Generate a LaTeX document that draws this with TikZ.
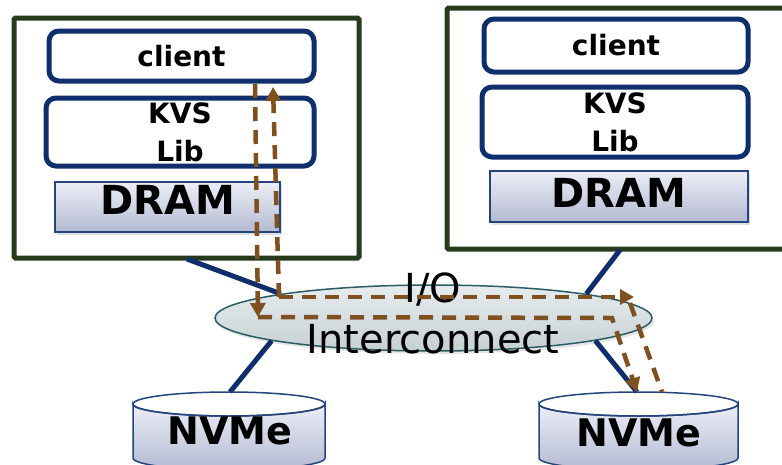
\documentclass[tikz,border=0pt]{standalone}
\usepackage{fontspec}
\setmainfont{DejaVu Sans}
\usetikzlibrary{arrows.meta,shapes.geometric,shadows,calc}
\definecolor{hostc}{HTML}{263A1C}
\definecolor{navy}{HTML}{0E2F6B}
\definecolor{flowc}{HTML}{7F5020}
\definecolor{dramline}{HTML}{24447C}
\definecolor{dramtop}{HTML}{ECEEF6}
\definecolor{drambot}{HTML}{B4BAD2}
\definecolor{ictop}{HTML}{E6ECEE}
\definecolor{icbot}{HTML}{C6D1D4}
\definecolor{icline}{HTML}{2B5C64}
\begin{document}
\begin{tikzpicture}[x=1pt,y=-1pt,
  hostbox/.style={draw=hostc, line width=5pt, fill=white, rounded corners=1.5pt, inner sep=0pt},
  swbox/.style={draw=navy, line width=5pt, rounded corners=10pt, fill=white, align=center, inner sep=0pt,
    font=\bfseries\fontsize{28}{38}\selectfont},
  drambox/.style={draw=dramline, line width=1.5pt, top color=dramtop, bottom color=drambot, inner sep=0pt,
    drop shadow={shadow xshift=2pt, shadow yshift=-3pt, opacity=0.25},
    font=\bfseries\fontsize{40}{40}\selectfont},
  link/.style={draw=navy, line width=5pt},
  flow/.style={draw=flowc, line width=4.5pt, dash pattern=on 14pt off 9pt},
  flowarrow/.style={flow, -{Triangle[length=14pt,width=15pt]}},
  nvmebody/.style={draw=dramline, line width=1.5pt, top color=dramtop, bottom color=drambot},
  nvmetext/.style={font=\bfseries\fontsize{38}{38}\selectfont, inner sep=0pt},
  iotext/.style={align=center, font=\fontsize{40}{51}\selectfont, inner sep=0pt}
]
\useasboundingbox (0,0) rectangle (782,464);
\clip (0,0) rectangle (782,464);
\fill[white] (0,0) rectangle (782,464);

% host boxes
\node[hostbox, minimum width=345pt, minimum height=240pt] (h1) at (186.5,138) {};
\node[hostbox, minimum width=353pt, minimum height=241pt] (h2) at (623.5,128.5) {};

% software boxes, left
\node[swbox, minimum width=265pt, minimum height=50pt] (c1) at (181.5,56) {client};
\node[swbox, minimum width=268pt, minimum height=68pt] (k1) at (180,132) {KVS\\Lib};
\node[drambox, minimum width=225pt, minimum height=50pt, text depth=14pt] (d1) at (167.5,207) {DRAM};
% software boxes, right
\node[swbox, minimum width=264pt, minimum height=53pt] (c2) at (616,45.5) {client};
\node[swbox, minimum width=266pt, minimum height=70pt] (k2) at (615,122) {KVS\\Lib};
\node[drambox, minimum width=258pt, minimum height=51pt, text depth=7pt] (d2) at (619,196.5) {DRAM};

% interconnect
\node[ellipse, draw=icline, line width=1.5pt, top color=ictop, bottom color=icbot,
  minimum width=437pt, minimum height=66pt, inner sep=0pt,
  drop shadow={shadow xshift=2pt, shadow yshift=-3pt, opacity=0.2}] (ic) at (433.5,318) {};

% connection points
\coordinate (h1b) at (187,259);
\coordinate (h2b) at (620,250);
\coordinate (n1t) at (230,392);
\coordinate (n2t) at (637,392);
\draw[link] (h1b) -- (ic.171);
\draw[link] (h2b) -- (ic.9);
\draw[link] (ic.188) -- (n1t);
\draw[link] (ic.352) -- (n2t);

% NVMe cylinders
\path[nvmebody] (133,404) -- (133,458) arc[start angle=180, end angle=0, x radius=96, y radius=12] -- (325,404)
  arc[start angle=0, end angle=180, x radius=96, y radius=12] -- cycle;
\draw[draw=dramline, line width=1.5pt] (229,404) ellipse[x radius=96, y radius=12];
\path[nvmebody] (539,404) -- (539,458) arc[start angle=180, end angle=0, x radius=99.5, y radius=12] -- (738,404)
  arc[start angle=0, end angle=180, x radius=99.5, y radius=12] -- cycle;
\draw[draw=dramline, line width=1.5pt] (638.5,404) ellipse[x radius=99.5, y radius=12];
\node[nvmetext] (n1) at (230,431) {NVMe};
\node[nvmetext] (n2) at (639,433) {NVMe};

% label
\node[iotext, anchor=base] (iol) at (433,353) {I/O\\Interconnect};

% data flow
\coordinate (fa1) at (255,84);
\coordinate (fa2) at (258,317);
\coordinate (fb2) at (612,318);
\coordinate (fc0) at (273,87);
\coordinate (fc1) at (279,297);
\coordinate (fc2) at (634,297);
\coordinate (fd1) at (630,303);
\coordinate (fd2) at (662,392);
\draw[flowarrow] (fa1) -- (fa2);
\draw[flowarrow] (fa2) -- (fb2) -- (n2t);
\draw[flowarrow] (fc1) -- (fc2);
\draw[flow] (fd1) -- (fd2);
\draw[flowarrow] (fc1) -- (fc0);
\end{tikzpicture}
\end{document}
